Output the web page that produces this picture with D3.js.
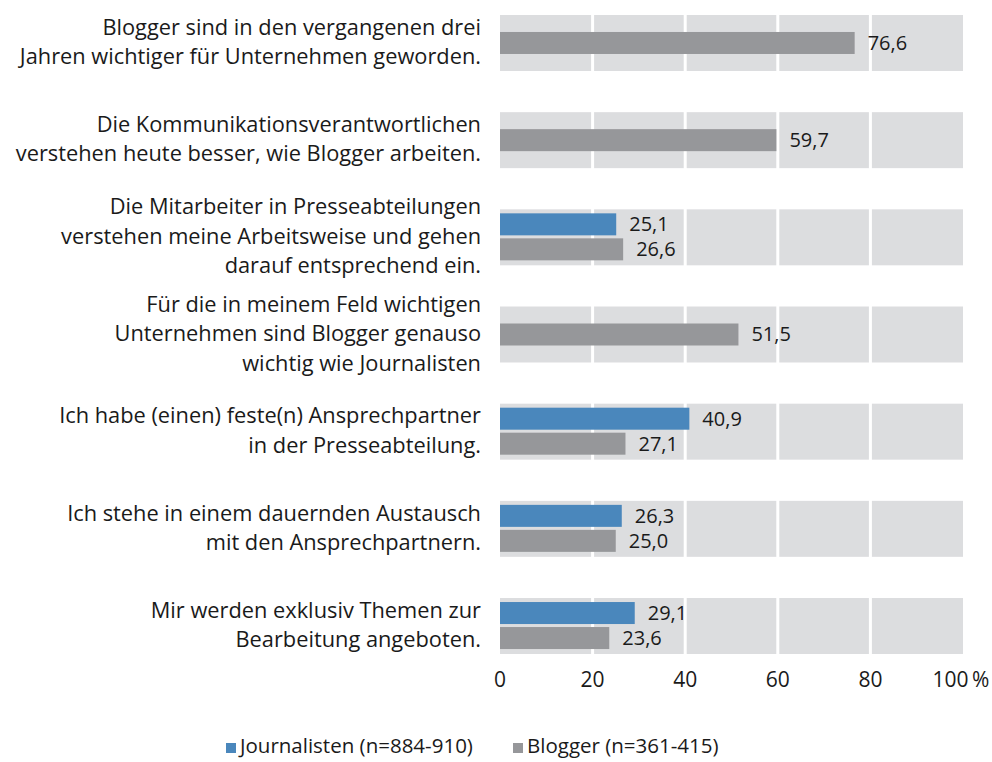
<!DOCTYPE html>
<html lang="de">
<head>
<meta charset="utf-8">
<script src="https://cdn.jsdelivr.net/npm/d3@7"></script>
<style>
  html, body { margin: 0; padding: 0; background: #fff; }
  svg { display: block; font-family: "Open Sans", "Noto Sans", sans-serif; }
  .cat-label, .tick-label, .value-label, .legend-label { fill: #1a1a1a; }
  .cat-label { font-size: 21.8px; }
  .value-label { font-size: 20px; }
  .tick-label { font-size: 21px; }
  .legend-label { font-size: 20.5px; }
</style>
</head>
<body>
<svg id="chart"></svg>
<script>
// Statements (each one may wrap onto several lines)
const categories = [
  ['Blogger sind in den vergangenen drei', 'Jahren wichtiger für Unternehmen geworden.'],
  ['Die Kommunikationsverantwortlichen', 'verstehen heute besser, wie Blogger arbeiten.'],
  ['Die Mitarbeiter in Presseabteilungen', 'verstehen meine Arbeitsweise und gehen', 'darauf entsprechend ein.'],
  ['Für die in meinem Feld wichtigen', 'Unternehmen sind Blogger genauso', 'wichtig wie Journalisten'],
  ['Ich habe (einen) feste(n) Ansprechpartner', 'in der Presseabteilung.'],
  ['Ich stehe in einem dauernden Austausch', 'mit den Ansprechpartnern.'],
  ['Mir werden exklusiv Themen zur', 'Bearbeitung angeboten.']
];

// Percent values, null = not asked in that group
const journalisten = [null, null, 25.1, null, 40.9, 26.3, 29.1];
const blogger = [76.6, 59.7, 26.6, 51.5, 27.1, 25.0, 23.6];

const seriesNames = ['Journalisten (n=884-910)', 'Blogger (n=361-415)'];
const seriesKeys = ['j', 'b'];
const colors = ['#4a87bc', '#96979a'];

const xTicks = [0, 20, 40, 60, 80, 100];

// Layout
const width = 992, height = 762;
const svg = d3.select('#chart').attr('width', width).attr('height', height);

const xScale = d3.scaleLinear().domain([0, 100]).range([500, 963]);
const yScale = d3.scaleBand()
    .domain(d3.range(categories.length))
    .range([15, 654])
    .paddingInner(0.424)
    .paddingOuter(0);

// bars inside one band
const subScale = d3.scaleBand().domain(seriesKeys).range([4, 51]).paddingInner(0.12);

const rows = categories.map((lines, i) => ({
  i, lines,
  values: [
    { key: 'j', v: journalisten[i] },
    { key: 'b', v: blogger[i] }
  ].filter(d => d.v !== null)
}));

// grey band backgrounds
svg.append('g').selectAll('rect')
    .data(rows)
    .join('rect')
    .attr('x', xScale(0))
    .attr('y', d => yScale(d.i))
    .attr('width', xScale(100) - xScale(0))
    .attr('height', yScale.bandwidth())
    .attr('fill', '#dcdddf');

// white grid lines
svg.append('g').selectAll('line')
    .data(xTicks.slice(1, -1))
    .join('line')
    .attr('x1', d => xScale(d)).attr('x2', d => xScale(d))
    .attr('y1', yScale.range()[0]).attr('y2', yScale.range()[1])
    .attr('stroke', '#fff')
    .attr('stroke-width', 3);

// bars + value labels
const rowG = svg.append('g').selectAll('g')
    .data(rows)
    .join('g')
    .attr('transform', d => `translate(0,${yScale(d.i)})`);

function barY(row, key) {
  if (row.values.length === 1) {
    return (yScale.bandwidth() - subScale.bandwidth()) / 2;
  }
  return subScale(key);
}

rowG.selectAll('rect')
    .data(d => d.values.map(v => ({ ...v, row: d })))
    .join('rect')
    .attr('x', xScale(0))
    .attr('y', d => barY(d.row, d.key))
    .attr('width', d => xScale(d.v) - xScale(0))
    .attr('height', subScale.bandwidth())
    .attr('fill', d => colors[seriesKeys.indexOf(d.key)]);

rowG.selectAll('text.value-label')
    .data(d => d.values.map(v => ({ ...v, row: d })))
    .join('text')
    .attr('class', 'value-label')
    .attr('x', d => xScale(d.v) + 13)
    .attr('y', d => barY(d.row, d.key) + subScale.bandwidth() / 2)
    .attr('dy', '0.35em')
    .text(d => d.v.toFixed(1).replace('.', ','));

// category labels, right aligned
const lineH = 29.5;
rowG.append('text')
    .attr('class', 'cat-label')
    .attr('text-anchor', 'end')
    .selectAll('tspan')
    .data(d => d.lines.map((t, k) => ({ t, k, n: d.lines.length })))
    .join('tspan')
    .attr('x', 481)
    .attr('y', d => yScale.bandwidth() / 2 + (d.k - (d.n - 1) / 2) * lineH)
    .attr('dy', '0.3em')
    .text(d => d.t);

// x axis labels
svg.append('g').selectAll('text')
    .data(xTicks)
    .join('text')
    .attr('class', 'tick-label')
    .attr('x', d => xScale(d) - (d === 100 ? 2 : 0))
    .attr('y', 687)
    .attr('text-anchor', 'middle')
    .text(d => d === 100 ? '100\u2009%' : d);

// legend
const legendX = [226, 513];
const legend = svg.append('g').selectAll('g')
    .data(seriesNames)
    .join('g')
    .attr('transform', (d, i) => `translate(${legendX[i]},753)`);

legend.append('rect')
    .attr('x', 0).attr('y', -10)
    .attr('width', 10).attr('height', 10)
    .attr('fill', (d, i) => colors[i]);

legend.append('text')
    .attr('class', 'legend-label')
    .attr('x', 14)
    .attr('y', 0)
    .text(d => d);
</script>
</body>
</html>
